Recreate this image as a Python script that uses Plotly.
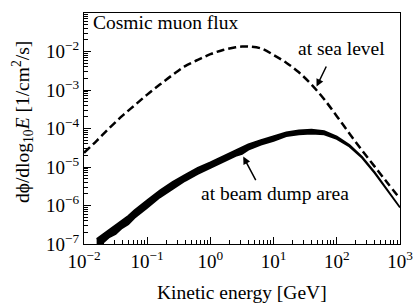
import numpy as np
import plotly.graph_objects as go

# Sea-level cosmic muon flux (log10 values)
log_e_sea = [-2.0, -1.8, -1.6, -1.4, -1.2, -1.0, -0.8, -0.6, -0.4, -0.2, 0.0, 0.2, 0.4,
             0.5, 0.6, 0.8, 1.0, 1.2, 1.4, 1.6, 1.8, 2.0, 2.2, 2.4, 2.6, 2.8, 3.0]
log_flux_sea = [-4.63, -4.32, -3.99, -3.68, -3.40, -3.12, -2.86, -2.61, -2.38, -2.22, -2.07, -1.96, -1.89,
                -1.87, -1.87, -1.92, -2.09, -2.29, -2.54, -2.86, -3.24, -3.68, -4.13, -4.57, -4.99, -5.41, -5.82]

# Beam dump area flux: central value and band half-width (decades)
log_e_dump = [-1.8, -1.7, -1.6, -1.5, -1.4, -1.3, -1.2, -1.1, -1.0, -0.8, -0.6, -0.4, -0.2, 0.0,
              0.2, 0.4, 0.5, 0.6, 0.8, 1.0, 1.1, 1.2, 1.4, 1.6, 1.8, 2.0, 2.2, 2.4, 2.6, 2.8, 3.0]
log_flux_dump = [-6.98, -6.86, -6.72, -6.62, -6.49, -6.38, -6.22, -6.10, -5.96, -5.70, -5.48, -5.28, -5.10, -4.95,
                 -4.80, -4.64, -4.58, -4.48, -4.36, -4.26, -4.20, -4.15, -4.10, -4.08, -4.11, -4.24, -4.45,
                 -4.75, -5.15, -5.60, -6.04]
log_spread_dump = [0.11, 0.11, 0.10, 0.12, 0.10, 0.11, 0.10, 0.10, 0.10, 0.09, 0.09, 0.08, 0.08, 0.07,
                   0.07, 0.07, 0.08, 0.07, 0.06, 0.06, 0.07, 0.05, 0.05, 0.05, 0.04, 0.03, 0.02, 0.015,
                   0.01, 0.01, 0.01]

x_tick_vals = [1e-2, 1e-1, 1e0, 1e1, 1e2, 1e3]
x_tick_text = ["10<sup>−2</sup>", "10<sup>−1</sup>", "10<sup>0</sup>", "10<sup>1</sup>", "10<sup>2</sup>", "10<sup>3</sup>"]
y_tick_vals = [1e-7, 1e-6, 1e-5, 1e-4, 1e-3, 1e-2, 1e-1]
y_tick_text = ["10<sup>−7</sup>", "10<sup>−6</sup>", "10<sup>−5</sup>", "10<sup>−4</sup>",
               "10<sup>−3</sup>", "10<sup>−2</sup>", "10<sup>−1</sup>"]

FONT = "serif"

e_sea = 10 ** np.array(log_e_sea)
flux_sea = 10 ** np.array(log_flux_sea)
e_dump = 10 ** np.array(log_e_dump)
c = np.array(log_flux_dump)
s = np.array(log_spread_dump)
upper = 10 ** (c + s)
lower = 10 ** (c - s)

fig = go.Figure()
fig.add_trace(go.Scatter(
    x=np.concatenate([e_dump, e_dump[::-1]]),
    y=np.concatenate([upper, lower[::-1]]),
    fill="toself", fillcolor="black", mode="lines",
    line=dict(color="black", width=1.8), hoverinfo="skip", showlegend=False))
fig.add_trace(go.Scatter(
    x=e_sea, y=flux_sea, mode="lines",
    line=dict(color="black", width=2.5, dash="8px,4px", shape="spline"),
    showlegend=False))

axis_common = dict(
    type="log", showgrid=False, zeroline=False, automargin=False,
    showline=True, linecolor="black", linewidth=1.3, mirror=True,
    ticks="inside", ticklen=7, tickwidth=1, tickcolor="black",
    tickfont=dict(family=FONT, size=19, color="black"),
    minor=dict(ticks="inside", ticklen=4, tickwidth=0.8, tickcolor="black", dtick="D1", showgrid=False),
)

fig.update_xaxes(**axis_common, range=[-2, 3], tickmode="array",
                 tickvals=x_tick_vals, ticktext=x_tick_text)
fig.update_yaxes(**axis_common, range=[-7, -1], tickmode="array",
                 tickvals=y_tick_vals, ticktext=y_tick_text)

ann_font = dict(family=FONT, size=19.5, color="black")
fig.add_annotation(xref="paper", yref="paper", x=0.5, y=-0.208, xanchor="center", yanchor="middle",
                   text="Kinetic energy [GeV]", showarrow=False, font=ann_font)
fig.add_annotation(xref="paper", yref="paper", x=-0.196, y=0.528, xanchor="center", yanchor="middle",
                   text="dϕ/dlog<sub>10</sub><i>E</i> [1/cm<sup>2</sup>/s]", textangle=-90,
                   showarrow=False, font=ann_font)
fig.add_annotation(xref="paper", yref="paper", x=0.022, y=0.957, xanchor="left", yanchor="middle",
                   text="Cosmic muon flux", showarrow=False, font=ann_font)
fig.add_annotation(x=2.07, y=-1.91, text="at sea level", showarrow=False, font=ann_font)
fig.add_annotation(x=1.02, y=-5.68, text="at beam dump area", showarrow=False, font=ann_font)
fig.add_annotation(x=1.68, y=-2.91, ax=1.845, ay=-2.35, axref="x", ayref="y", text="",
                   showarrow=True, arrowhead=2, arrowsize=1, arrowwidth=1.5, arrowcolor="black")
fig.add_annotation(x=0.52, y=-4.73, ax=0.73, ay=-5.38, axref="x", ayref="y", text="",
                   showarrow=True, arrowhead=2, arrowsize=1, arrowwidth=1.5, arrowcolor="black")

fig.update_layout(
    width=415, height=308,
    margin=dict(l=84, r=15, t=13, b=64, autoexpand=False),
    paper_bgcolor="white", plot_bgcolor="white",
    showlegend=False,
    font=dict(family=FONT, color="black"),
)

fig.write_html("out.html", config={"displayModeBar": False},
               post_script="document.body.style.margin='0';")
